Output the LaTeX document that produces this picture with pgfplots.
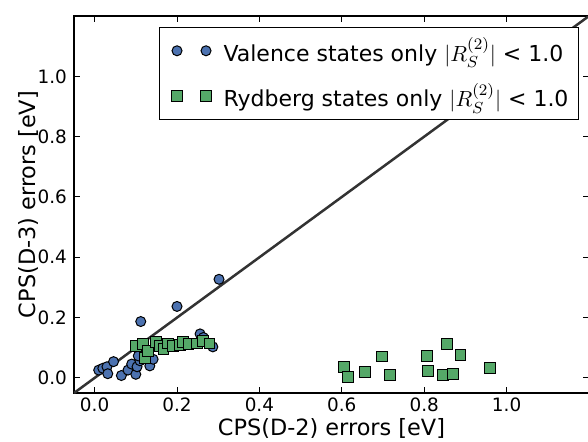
\documentclass[border=0pt]{standalone}
\usepackage{fontspec}
\setmainfont{DejaVu Sans}
\usepackage{pgfplots}
\pgfplotsset{compat=1.18}
\usetikzlibrary{calc}
\definecolor{valblue}{HTML}{4C72B0}
\definecolor{rydgreen}{HTML}{55A868}
\definecolor{diag}{HTML}{333333}

\begin{document}
\begin{tikzpicture}
\begin{axis}[
  scale only axis,
  width=257.5pt, height=188.5pt,
  xmin=-0.05, xmax=1.2, ymin=-0.05, ymax=1.2,
  xtick={0,0.2,0.4,0.6,0.8,1.0},
  ytick={0,0.2,0.4,0.6,0.8,1.0},
  xtick pos=both, ytick pos=both,
  tick align=inside,
  major tick length=3pt,
  every tick/.style={black, line width=0.5pt},
  axis line style={line width=1pt},
  scaled ticks=false,
  tick label style={font=\fontsize{9.2}{11}\selectfont},
  xticklabel style={yshift=1pt},
  /pgf/number format/assume math mode=true,
  /pgf/number format/.cd, fixed, fixed zerofill, precision=1, /pgfplots/.cd,
  label style={font=\fontsize{11.2}{13}\selectfont},
  xlabel={CPS(D-2) errors [eV]},
  ylabel={CPS(D-3) errors [eV]},
  xlabel style={at={(axis description cs:0.5,-0.094)}, anchor=center},
  ylabel style={at={(axis description cs:-0.0893,0.5)}, anchor=center},
  title={(c)},
  title style={at={(axis description cs:0.5,1.0477)}, anchor=base, font=\fontsize{11.2}{13}\selectfont},
  legend cell align=left,
  legend style={at={(axis description cs:0.9806,0.9708)}, anchor=north east,
    draw=black, line width=0.5pt, font=\fontsize{11}{13}\selectfont,
    row sep=5.5pt, inner sep=3pt},
  legend image code/.code={%
    \path (-5.5pt,0pt) (21pt,0pt);
    \draw[#1, only marks] plot coordinates {(0pt,0pt) (14.5pt,0pt)};},
]
\coordinate (ll) at (rel axis cs:0,0);
\coordinate (ur) at (rel axis cs:1,1);

\addplot[diag, line width=1.25pt, no marks, forget plot] coordinates {(-0.05,-0.05) (1.2,1.2)};

\addplot[only marks, mark=*, mark size=2.5pt,
  mark options={fill=valblue, draw=black, line width=0.5pt}] coordinates {
  (0.302,0.327) (0.200,0.237) (0.112,0.187)
  (0.010,0.026) (0.020,0.032) (0.030,0.037) (0.046,0.054) (0.032,0.014)
  (0.065,0.008) (0.081,0.026) (0.090,0.046) (0.100,0.012) (0.103,0.037)
  (0.110,0.057) (0.106,0.073) (0.134,0.040) (0.142,0.062)
  (0.256,0.146) (0.264,0.134) (0.287,0.103)
};
\addlegendentry{Valence states only $|R_S^{(2)}|$ < 1.0}

\addplot[only marks, mark=square*, mark size=2.7pt,
  mark options={fill=rydgreen, draw=black, line width=0.5pt}] coordinates {
  (0.100,0.107) (0.118,0.112) (0.122,0.066) (0.130,0.090) (0.149,0.118)
  (0.159,0.107) (0.167,0.096) (0.179,0.114) (0.191,0.107) (0.207,0.110)
  (0.215,0.118) (0.228,0.112) (0.248,0.114) (0.263,0.123) (0.279,0.114)
  (0.605,0.037) (0.616,0.004) (0.657,0.020) (0.698,0.071) (0.717,0.011)
  (0.807,0.072) (0.810,0.022) (0.855,0.112) (0.888,0.077) (0.845,0.010)
  (0.870,0.012) (0.959,0.033)
};
\addlegendentry{Rydberg states only $|R_S^{(2)}|$ < 1.0}
\end{axis}
\pgfresetboundingbox
\path ($(ll)+(-37pt,-24pt)$) rectangle ($(ur)+(-0.5pt,8pt)$);
\end{tikzpicture}
\end{document}
